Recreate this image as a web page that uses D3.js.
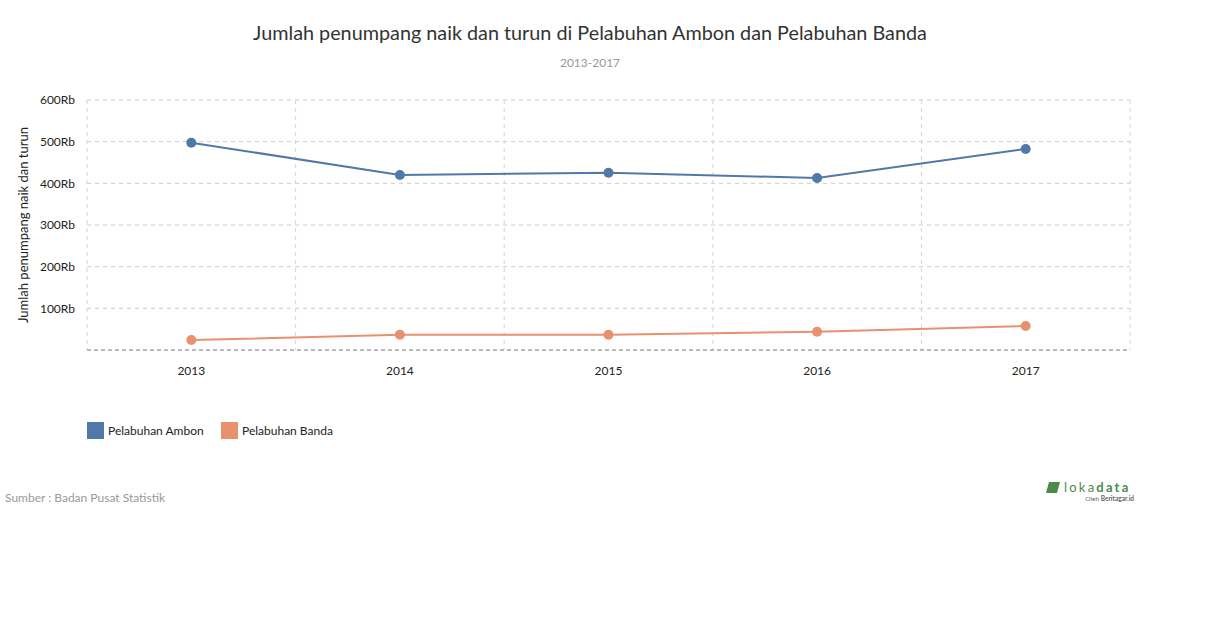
<!DOCTYPE html>
<html><head><meta charset="utf-8">
<script src="https://cdn.jsdelivr.net/npm/d3@7"></script>
<style>
body{margin:0;background:#fff;font-family:Lato,"Open Sans",sans-serif;}
</style></head>
<body><svg id="c" width="1210" height="628"></svg>
<script>
const years = ["2013","2014","2015","2016","2017"];
const ambon = [497600, 420000, 425500, 412800, 482400];
const banda = [24000, 36500, 36500, 44000, 57600];
const seriesNames = ["Pelabuhan Ambon","Pelabuhan Banda"];
const seriesColors = ["#5079a9","#e9916f"];
const yTicks = [100000,200000,300000,400000,500000,600000];

(function(){
const svg = d3.select("#c");
const pL=87,pR=1130,pT=100,pB=350;
const x = d3.scaleBand().domain(years).range([pL,pR]);
const y = d3.scaleLinear().domain([0,600000]).range([pB,pT]);

svg.append("text").attr("x",590).attr("y",40).attr("text-anchor","middle")
  .attr("font-size",19.8).attr("fill","#333").text("Jumlah penumpang naik dan turun di Pelabuhan Ambon dan Pelabuhan Banda");
svg.append("text").attr("x",590).attr("y",67).attr("text-anchor","middle")
  .attr("font-size",12).attr("fill","#999").text("2013-2017");

svg.append("g").selectAll("line").data(yTicks).join("line")
  .attr("x1",pL).attr("x2",pR).attr("y1",d=>y(d)).attr("y2",d=>y(d))
  .attr("stroke","#ccc").attr("stroke-dasharray","4,4");
const edges = years.map(d=>x(d)).concat([pR]);
svg.append("g").selectAll("line").data(edges).join("line")
  .attr("x1",d=>d).attr("x2",d=>d).attr("y1",pT).attr("y2",pB)
  .attr("stroke","#d4d4d4").attr("stroke-dasharray","4,4");
svg.append("line").attr("x1",pL).attr("x2",pR).attr("y1",pB).attr("y2",pB)
  .attr("stroke","#777").attr("stroke-dasharray","4,3");

const yAxis = d3.axisLeft(y).tickValues(yTicks).tickSize(0).tickPadding(0)
  .tickFormat(d=>(d/1000)+"Rb");
const gy = svg.append("g").attr("transform",`translate(${pL-12},0)`).call(yAxis);
gy.select(".domain").remove();
gy.selectAll("text").attr("font-size",12).attr("fill","#222").attr("font-family","Lato");

const xAxis = d3.axisBottom(x).tickSize(0).tickPadding(0);
const gx = svg.append("g").attr("transform",`translate(0,${pB+16})`).call(xAxis);
gx.select(".domain").remove();
gx.selectAll("text").attr("font-size",12).attr("fill","#222").attr("font-family","Lato");

svg.append("text").attr("transform","translate(28,225) rotate(-90)").attr("text-anchor","middle")
  .attr("font-size",13).attr("fill","#222").text("Jumlah penumpang naik dan turun");

const cx = d=>x(d)+x.bandwidth()/2;
[ambon,banda].forEach((vals,i)=>{
  const pts = years.map((yr,j)=>[cx(yr),y(vals[j])]);
  svg.append("path").attr("d",d3.line()(pts)).attr("fill","none")
    .attr("stroke",seriesColors[i]).attr("stroke-width",2);
  svg.append("g").selectAll("circle").data(pts).join("circle")
    .attr("cx",d=>d[0]).attr("cy",d=>d[1]).attr("r",5).attr("fill",seriesColors[i]);
});

const lg = [87,221];
seriesNames.forEach((n,i)=>{
  svg.append("rect").attr("x",lg[i]).attr("y",422).attr("width",17).attr("height",17).attr("fill",seriesColors[i]);
  svg.append("text").attr("x",lg[i]+21).attr("y",435).attr("font-size",12).attr("fill","#222").text(n);
});

svg.append("text").attr("x",5).attr("y",502).attr("font-size",12).attr("fill","#999").text("Sumber : Badan Pusat Statistik");

const lgG = svg.append("g");
lgG.append("path").attr("d","M1049,482 L1060,482 L1057,493 L1046,493 Z").attr("fill","#4a8c4a");
lgG.append("text").attr("x",1064).attr("y",492).attr("font-size",13).attr("fill","#4a8c4a")
  .attr("letter-spacing","2.2").text("loka").append("tspan").attr("font-weight","bold").text("data");
lgG.append("text").attr("x",1134).attr("y",501).attr("text-anchor","end").attr("font-size",6.5).attr("fill","#666")
  .text("Oleh ").append("tspan").attr("font-weight","bold").text("Beritagar.id");
})();
</script></body></html>
